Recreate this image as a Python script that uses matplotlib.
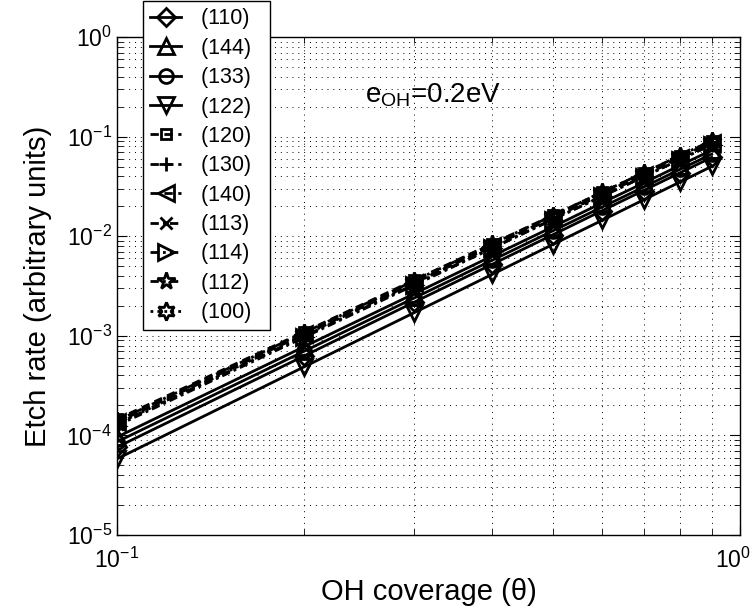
import matplotlib
matplotlib.use("Agg")
import matplotlib.pyplot as plt
from matplotlib.ticker import LogLocator, NullFormatter
import matplotlib.transforms as mtransforms

plt.rcParams['font.family'] = ['Liberation Sans', 'DejaVu Sans']
plt.rcParams['mathtext.fontset'] = 'custom'
plt.rcParams['mathtext.rm'] = 'Liberation Sans'
plt.rcParams['mathtext.it'] = 'Liberation Sans:italic'

coverage = [0.1, 0.2, 0.3, 0.4, 0.5, 0.6, 0.7, 0.8, 0.9]

labels = ['(110)', '(144)', '(133)', '(122)', '(120)', '(130)', '(140)',
          '(113)', '(114)', '(112)', '(100)']

r110 = [7.6e-5, 6.31e-4, 2.18e-3, 5.23e-3, 0.01032, 0.01804, 0.02883, 0.0433, 0.0620]
r144 = [9.6e-5, 7.81e-4, 2.65e-3, 6.33e-3, 0.0124, 0.0216, 0.0343, 0.0514, 0.0732]
r133 = [8.6e-5, 7.03e-4, 2.40e-3, 5.74e-3, 0.0113, 0.0196, 0.0312, 0.0469, 0.0669]
r122 = [5.8e-5, 4.90e-4, 1.71e-3, 4.14e-3, 0.00825, 0.01443, 0.02325, 0.0350, 0.0503]
r120 = [1.45e-4, 1.10e-3, 3.63e-3, 8.42e-3, 0.0162, 0.0276, 0.0434, 0.0642, 0.0904]
r130 = [1.40e-4, 1.06e-3, 3.46e-3, 8.02e-3, 0.0154, 0.0262, 0.0410, 0.0608, 0.0855]
r140 = [1.35e-4, 1.04e-3, 3.40e-3, 7.95e-3, 0.0153, 0.0261, 0.0412, 0.0610, 0.0861]
r113 = [1.30e-4, 9.97e-4, 3.28e-3, 7.66e-3, 0.0148, 0.0252, 0.0397, 0.0588, 0.0829]
r114 = [1.25e-4, 9.70e-4, 3.23e-3, 7.56e-3, 0.01465, 0.0251, 0.0396, 0.0589, 0.0834]
r112 = [1.40e-4, 1.08e-3, 3.57e-3, 8.36e-3, 0.0161, 0.0276, 0.0435, 0.0645, 0.0913]
r100 = [1.30e-4, 1.02e-3, 3.39e-3, 7.98e-3, 0.0155, 0.0266, 0.0421, 0.0625, 0.0885]

x_ticks = [0.1, 1]
x_ticklabels = [r'$\mathregular{10^{-1}}$', r'$\mathregular{10^{0}}$']

series = [r110, r144, r133, r122, r120, r130, r140, r113, r114, r112, r100]
markers = ['D', '^', 'o', 'v', 's', '+', '<', 'x', '>', '*', (6, 1, 0)]
msizes = [9, 11, 10, 11, 7, 10, 11, 8, 11, 13, 13]
styles = ['-', '-', '-', '-', (0, (3, 2)), (0, (3, 2)), (0, (3, 2)),
          (0, (3, 1.5, 1, 1.5)), (0, (3, 1.5, 1, 1.5)), (0, (3, 1.5, 1, 1.5)),
          (0, (1, 1.5))]

fig = plt.figure(figsize=(7.53, 6.09), dpi=100)
ax = fig.add_axes([0.155, 0.1215, 0.828, 0.8175])

handles = []
for vals, lab, m, ms, ls in zip(series, labels, markers, msizes, styles):
    h, = ax.plot(coverage, vals, linestyle=ls, marker=m, markersize=ms, color='black',
                 markerfacecolor='none', markeredgecolor='black', markeredgewidth=2,
                 linewidth=2, label=lab)
    handles.append(h)

ax.set_xscale('log')
ax.set_yscale('log')
ax.set_xlim(0.1, 1)
ax.set_ylim(1e-5, 1)
ax.set_xticks(x_ticks)
ax.set_xticklabels(x_ticklabels)
ax.yaxis.set_major_locator(LogLocator(base=10, numticks=10))
ax.yaxis.set_minor_locator(LogLocator(base=10, subs=range(2, 10), numticks=20))
ax.xaxis.set_minor_locator(LogLocator(base=10, subs=range(2, 10), numticks=20))
ax.xaxis.set_minor_formatter(NullFormatter())
ax.yaxis.set_minor_formatter(NullFormatter())

ax.grid(True, which='both', linestyle=(0, (1, 5)), color='black', linewidth=0.7)
ax.tick_params(which='both', direction='in', top=True, right=True, labelsize=16.5)
ax.tick_params(which='major', length=7)
ax.tick_params(which='minor', length=4)
ax.tick_params(axis='x', pad=9)
for sp in ax.spines.values():
    sp.set_linewidth(1)

ax.set_xlabel('OH coverage (θ)', fontsize=21, labelpad=4)
ax.set_ylabel('Etch rate (arbitrary units)', fontsize=21, labelpad=10)

ax.text(0.25, 0.26, r'e$_{\mathregular{OH}}$=0.2eV', fontsize=20, va='center', ha='left')

xt_objs = ax.xaxis.get_major_ticks()
lbl = xt_objs[-1].label1
lbl.set_transform(lbl.get_transform() + mtransforms.ScaledTranslation(-7 / 100, 0, fig.dpi_scale_trans))

leg = fig.legend(handles=handles, labels=[l + '  ' for l in labels],
                 loc='upper left', bbox_to_anchor=(0.19, 0.998), fontsize=15.5,
                 frameon=True, fancybox=False, edgecolor='black', framealpha=1,
                 handlelength=1.45, labelspacing=0.39, borderpad=0.33,
                 handletextpad=0.9, borderaxespad=0)
leg.get_frame().set_linewidth(1)

fig.savefig('out.png', dpi=100)
